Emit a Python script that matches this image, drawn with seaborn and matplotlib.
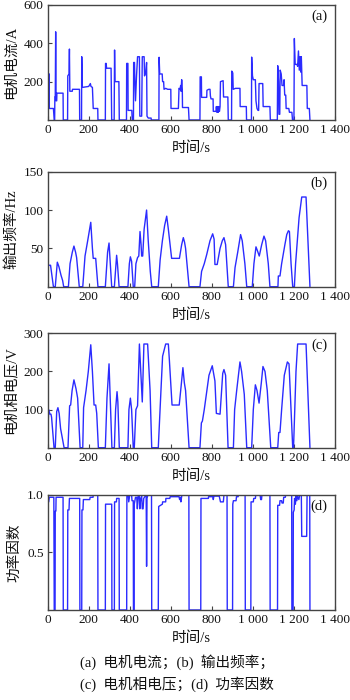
import matplotlib
matplotlib.use("Agg")
import matplotlib.pyplot as plt
import seaborn as sns
import pandas as pd

# ---------------- data ----------------
cur_t = [0, 8, 8, 28, 32, 34, 35, 37, 39, 41, 44, 45, 75, 76, 97, 98, 104, 106, 108, 120, 121, 155, 156,
         165, 166, 169, 200, 208, 211, 218, 222, 244, 245, 281, 282, 285, 287, 309, 312, 324, 326, 328, 347, 349,
         384, 385, 391, 392, 410, 412, 418, 419, 423, 425, 428, 433, 438, 447, 449, 458, 461, 470, 472, 478, 482,
         484, 490, 504, 505,
         542, 543, 546, 558, 560, 565, 567, 575, 585, 600, 601, 637, 640, 645, 648, 650, 653, 656, 657, 686, 689,
         742, 743, 749, 750, 775, 776, 785, 791, 793, 796, 806, 807, 820, 822, 825, 828, 831, 834, 837, 840, 842,
         855, 857, 878, 880,
         896, 897, 902, 904, 915, 937, 938, 968, 969,
         993, 994, 998, 1002, 1012, 1015, 1020, 1025, 1028, 1030, 1048, 1050, 1083, 1085,
         1119, 1121, 1125, 1127, 1131, 1133, 1138, 1142, 1150, 1152, 1155, 1160, 1162, 1175, 1178, 1190, 1193,
         1200, 1202, 1206, 1215, 1218, 1222, 1226, 1230, 1233, 1236, 1240, 1263, 1265, 1275, 1278]
cur_v = [240, 240, 60, 60, 0, 0, 120, 120, 460, 100, 100, 140, 140, 0, 0, 230, 240, 370, 150, 150, 160, 160, 0,
         0, 330, 170, 175, 190, 175, 170, 60, 60, 0, 0, 295, 295, 270, 270, 0, 0, 365, 200, 200, 0,
         0, 295, 295, 50, 50, 0, 0, 300, 300, 200, 100, 230, 330, 330, 20, 20, 330, 330, 230, 250, 300,
         20, 10, 10, 0,
         0, 327, 240, 240, 200, 200, 160, 165, 160, 160, 60, 60, 165, 160, 180, 150, 210, 160, 65, 65, 0,
         0, 225, 225, 118, 118, 155, 160, 160, 125, 110, 110, 45, 45, 70, 40, 70, 40, 70, 45, 70, 200,
         205, 120, 120, 0,
         0, 255, 245, 160, 165, 165, 70, 70, 0,
         0, 328, 230, 210, 210, 100, 60, 50, 50, 190, 190, 70, 70, 0,
         0, 283, 200, 30, 30, 260, 240, 180, 180, 210, 130, 130, 60, 60, 40, 40, 0,
         0, 425, 290, 290, 280, 360, 260, 330, 250, 330, 180, 180, 60, 60, 0]

freq_t = [0, 4, 14, 28, 37, 47, 55, 65, 73, 78, 101, 109, 120, 128, 136, 141, 154, 171, 182, 195, 210, 218, 222,
          234, 245, 281, 292, 299, 312, 325, 336, 340, 348, 391, 398, 403, 409, 417, 424, 430, 438, 444, 450,
          455, 458, 463, 470, 482, 490, 500, 507, 539, 548, 559, 570, 580, 588, 604, 642, 653, 661, 667, 672,
          689, 742, 750, 763, 775, 791, 804, 811, 815, 826, 840, 851, 859, 867, 880, 905, 913, 926, 940, 948,
          961, 970, 997, 1005, 1015, 1022, 1031, 1043, 1054, 1062, 1075, 1083, 1122, 1124, 1132, 1140, 1156,
          1165, 1173, 1178, 1186, 1194, 1202, 1208, 1225, 1238, 1259, 1278]
freq_v = [12, 28, 28, 0, 0, 32, 26, 15, 8, 0, 0, 30, 45, 53, 45, 38, 0, 0, 40, 60, 84, 50, 37,
          37, 0, 0, 45, 57, 0, 0, 41, 30, 0, 0, 30, 39, 33, 0, 0, 30, 38, 40, 72,
          55, 40, 40, 75, 100, 60, 20, 0, 0, 35, 60, 80, 92, 75, 37, 37, 55, 64, 58, 50,
          0, 0, 20, 30, 42, 60, 69, 62, 29, 29, 50, 60, 64, 55, 0, 0, 25, 45, 68, 60,
          30, 0, 0, 30, 52, 47, 40, 55, 66, 60, 30, 0, 0, 14, 14, 30, 55,
          68, 73, 72, 30, 0, 0, 30, 90, 117, 117, 0]

volt_t = [0, 5, 11, 16, 19, 31, 37, 44, 50, 56, 63, 80, 99, 107, 112, 119, 128, 138, 146, 158, 171, 175, 187,
          198, 210, 218, 226, 234, 239, 247, 281, 289, 299, 313, 325, 331, 338, 342, 349, 391, 396, 403, 409,
          417, 422, 430, 438, 447, 461, 469, 487, 499, 507, 539, 552, 560, 575, 588, 593, 606, 641, 650, 659,
          666, 672, 689, 742, 749, 754, 763, 786, 802, 815, 822, 840, 853, 859, 867, 879, 905, 911, 921, 937,
          945, 958, 970, 994, 1002, 1012, 1020, 1030, 1041, 1049, 1059, 1070, 1087, 1121, 1126, 1132, 1140,
          1153, 1168, 1176, 1194, 1198, 1210, 1218, 1259, 1278]
volt_v = [30, 100, 88, 88, 80, 0, 0, 95, 105, 90, 50, 0, 0, 110, 112, 150, 178, 155, 130, 0, 0, 105, 150,
          200, 270, 200, 112, 112, 90, 0, 0, 130, 220, 0, 0, 100, 147, 120, 0, 0, 100, 130, 100,
          0, 0, 100, 110, 272, 120, 272, 272, 150, 0, 0, 150, 240, 272, 272, 230, 112, 112, 160, 210,
          170, 150, 0, 0, 65, 70, 100, 190, 215, 175, 90, 88, 195, 205, 190, 0, 0, 100, 150, 225,
          200, 140, 0, 0, 100, 165, 150, 117, 170, 213, 200, 150, 0, 0, 40, 40, 100,
          190, 225, 220, 0, 0, 200, 272, 272, 0]

pf_t = [0, 5, 8, 30, 32, 36, 37, 40, 41, 75, 76, 97, 98, 104, 106, 156, 157, 166, 167, 172, 174, 205, 207,
        221, 222, 244, 245, 281, 282, 312, 313, 325, 326, 335, 336, 348, 349, 385, 386, 392, 395, 400, 409,
        411, 417, 418, 421, 422, 428, 434, 437, 441, 446, 449, 453, 458, 461, 465, 468, 475, 480, 482, 484,
        488, 506, 507, 539, 541, 559, 560, 575, 576, 595, 597, 640, 643, 646, 649, 652, 654, 688, 689,
        746, 747, 783, 784, 805, 807, 810, 836, 842, 856, 859, 874, 875, 901, 902, 905, 918, 920, 928,
        930, 962, 963, 990, 991, 1002, 1004, 1012, 1014, 1035, 1038, 1042, 1044, 1083, 1084, 1120, 1121,
        1130, 1132, 1140, 1142, 1148, 1150, 1158, 1160, 1189, 1190, 1196, 1197, 1201, 1203, 1207, 1210,
        1214, 1218, 1224, 1228, 1236, 1238, 1262, 1264, 1277, 1278]
pf_v = [0.94, 0.94, 0.98, 0.98, 0, 0, 0.86, 0.86, 0.98, 0.98, 0, 0, 0.87, 0.87, 0.97, 0.97, 0, 0, 0.87,
        0.87, 0.96, 0.96, 0.98, 0.98, 1.0, 1.0, 0, 0, 0.92, 0.92, 0, 0, 0.94, 0.94, 0.97, 0.97, 0, 0, 1.0,
        1.0, 0.94, 1.0, 1.0, 0.95, 0.95, 0, 0, 0.92, 0.98, 0.98, 0.88, 1.0, 1.0, 0.88, 0.97, 0.99, 0.88,
        0.88, 0.97, 0.99, 0.99, 0.38, 0.97, 1.0, 1.0, 0, 0, 0.9, 0.92, 0.94, 0.94, 0.97, 0.97, 0.985,
        0.985, 0.96, 0.98, 0.94, 0.98, 1.0, 1.0, 0, 0, 0.97, 0.97, 0.985, 0.985, 0.96, 0.99, 0.99, 0.94,
        0.94, 1.0, 1.0, 0, 0, 0.92, 0.95, 0.95, 0.985, 0.985, 1.0, 1.0, 0, 0, 0.94, 0.94, 0.97, 0.97,
        1.0, 1.0, 0.96, 0.96, 1.0, 1.0, 0, 0, 0.91, 0.91, 0.95, 0.95, 0.93, 0.93, 0.98, 0.98, 1.0, 1.0,
        0, 0, 0.85, 0.87, 0.97, 0.92, 0.99, 0.95, 0.99, 0.96, 1.0, 1.0, 0.64, 0.64, 1.0, 1.0, 0]

x_ticks = [0, 200, 400, 600, 800, 1000, 1200, 1400]
x_tick_labels = ["0", "200", "400", "600", "800", "1 000", "1 200", "1 400"]
panel_tags = ["(a)", "(b)", "(c)", "(d)"]
y_labels = ["电机电流/A", "输出频率/Hz", "电机相电压/V", "功率因数"]
y_limits = [(0, 600), (0, 150), (0, 300), (0, 1.0)]
y_ticks = [[200, 400, 600], [50, 100, 150], [100, 200, 300], [0.5, 1.0]]
y_tick_labels = [["200", "400", "600"], ["50", "100", "150"], ["100", "200", "300"], ["0.5", "1.0"]]
x_label = "时间/s"
caption_lines = ["(a)  电机电流；(b)  输出频率；", "(c)  电机相电压；(d)  功率因数"]

# ---------------- style ----------------
sns.set_style("ticks")
FAM = ["Liberation Serif", "Noto Sans CJK SC"]
plt.rcParams["font.family"] = FAM
plt.rcParams["axes.unicode_minus"] = False

LINE = "#2b2bff"
SPINE = "#444444"
TXT = "#111111"

fig = plt.figure(figsize=(3.5, 7.0), dpi=100)

# axes boxes (fig fractions): left, bottom, width, height
boxes = [
    (0.1362, 0.8286, 0.8209, 0.1643),
    (0.1362, 0.5904, 0.8209, 0.1643),
    (0.1362, 0.3604, 0.8209, 0.1634),
    (0.1362, 0.1286, 0.8209, 0.1643),
]
series = [(cur_t, cur_v), (freq_t, freq_v), (volt_t, volt_v), (pf_t, pf_v)]

for i, (box, (tt, vv)) in enumerate(zip(boxes, series)):
    ax = fig.add_axes(box)
    df = pd.DataFrame({"t": tt, "v": vv})
    sns.lineplot(data=df, x="t", y="v", ax=ax, estimator=None, sort=False,
                 color=LINE, linewidth=1.0)
    ax.set_xlim(0, 1400)
    ax.set_ylim(*y_limits[i])
    ax.set_xticks(x_ticks)
    ax.set_xticklabels(x_tick_labels)
    ax.set_yticks(y_ticks[i])
    ax.set_yticklabels(y_tick_labels[i])
    ax.tick_params(direction="in", length=3, width=0.8, color=SPINE,
                   labelsize=9.5, pad=3, labelcolor=TXT)
    for s in ax.spines.values():
        s.set_color(SPINE)
        s.set_linewidth(1.0)
    ax.set_xlabel(x_label, fontsize=10.5, family=FAM, labelpad=4, color=TXT)
    ax.set_ylabel(y_labels[i], fontsize=10.5, family=FAM, labelpad=4, color=TXT)
    ax.text(0.975, 0.9, panel_tags[i], transform=ax.transAxes, ha="right", va="center",
            fontsize=10.5, family=FAM, color=TXT)

fig.text(80 / 350, 1 - 662 / 700, caption_lines[0], ha="left", va="center",
         fontsize=10.5, family=FAM, color=TXT)
fig.text(80 / 350, 1 - 684 / 700, caption_lines[1], ha="left", va="center",
         fontsize=10.5, family=FAM, color=TXT)

fig.savefig("out.png", dpi=100)
